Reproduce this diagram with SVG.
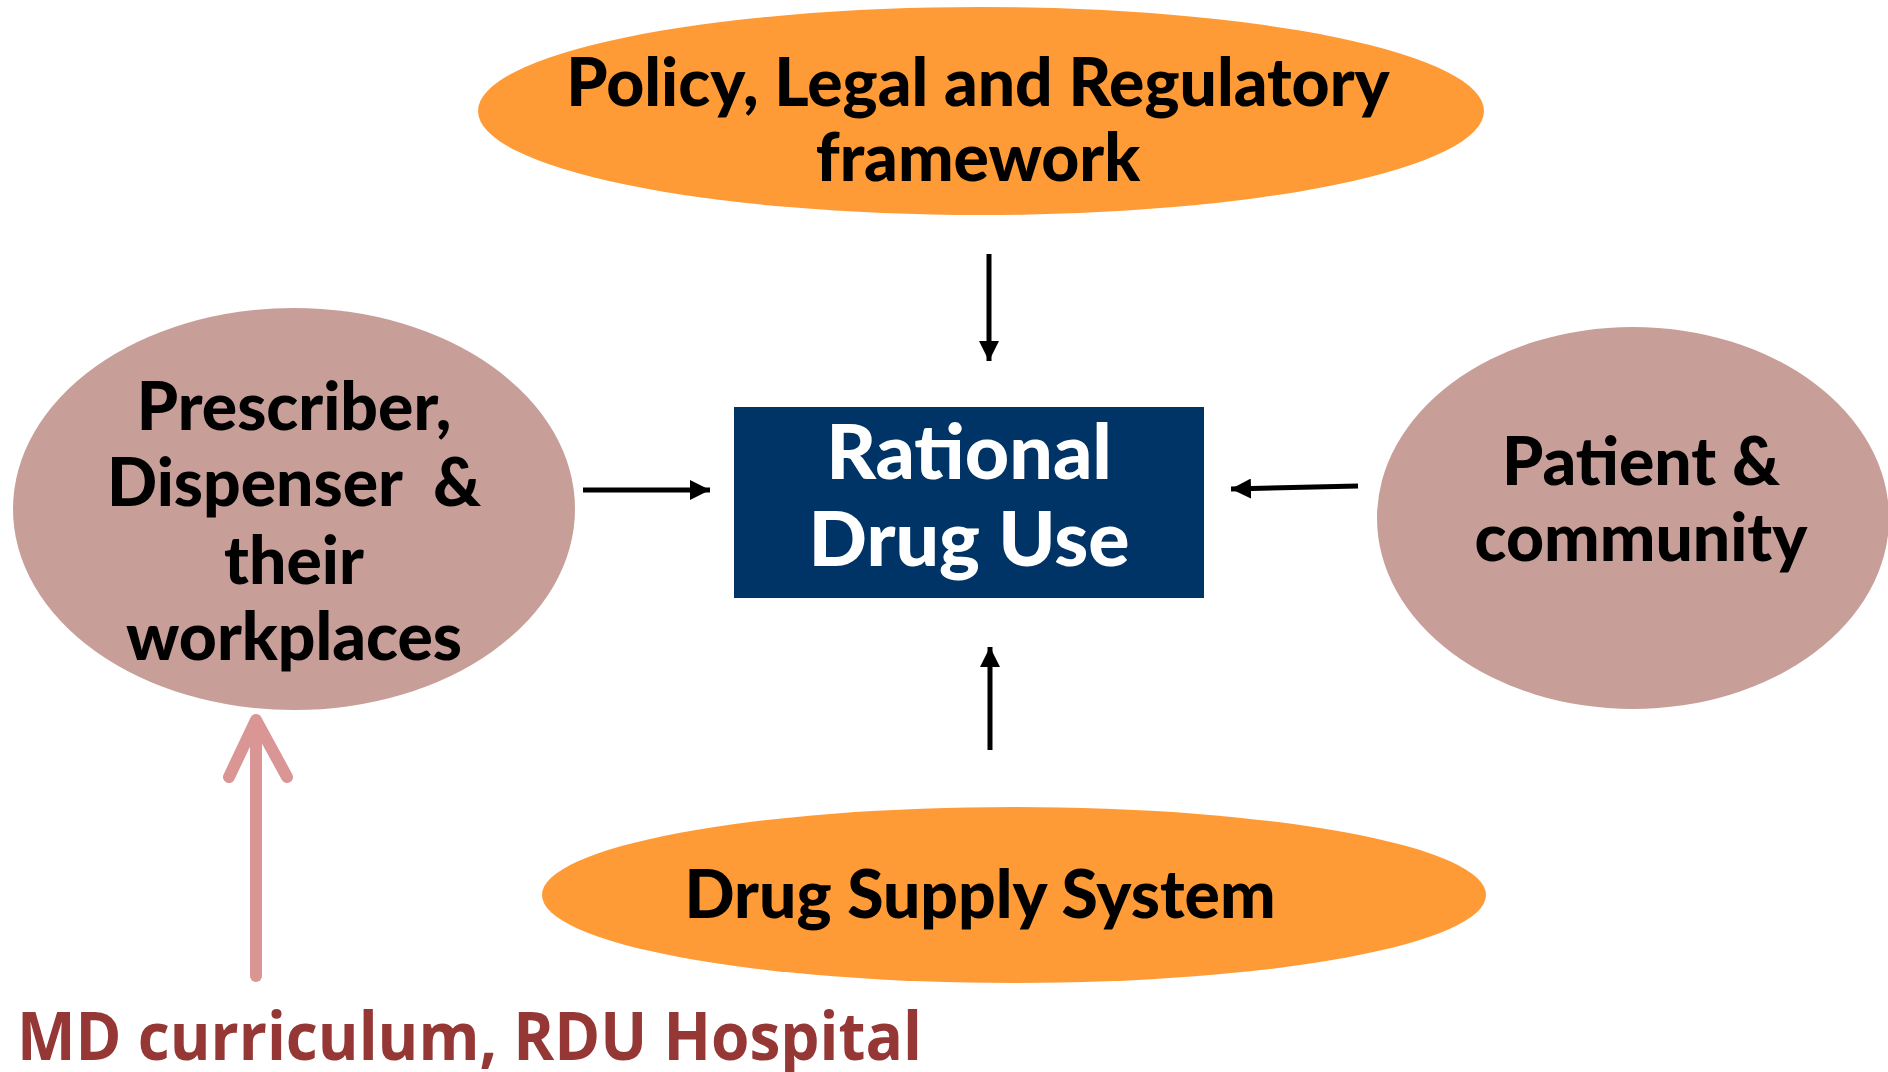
<svg xmlns="http://www.w3.org/2000/svg" width="1888" height="1072" viewBox="0 0 1888 1072">
  <style>
    .lbl { font-family: Lato, "Open Sans", sans-serif; font-weight: 900; fill: #000000; text-anchor: middle; font-size: 66px; }
    .big { font-size: 77px; fill: #FFFFFF; }
    .orange { fill: #FF9B36; }
    .rose { fill: #C79E98; }
    .wire { stroke: #000000; stroke-width: 5; fill: none; }
    .edu { stroke: #D99694; stroke-width: 12; fill: none; stroke-linecap: round; stroke-linejoin: round; }
  </style>
  <defs>
    <marker id="head" viewBox="0 0 10 10" refX="10" refY="5" markerWidth="4" markerHeight="4" orient="auto" markerUnits="strokeWidth">
      <path d="M0,0 L10,5 L0,10 Z" fill="#000000"/>
    </marker>
  </defs>
  <rect width="1888" height="1072" fill="#FFFFFF"/>

  <g id="policy">
    <ellipse class="orange" cx="981" cy="111" rx="503" ry="104"/>
    <text class="lbl" x="978" y="106">Policy, Legal and Regulatory</text>
    <text class="lbl" x="978" y="181">framework</text>
  </g>

  <g id="prescriber">
    <ellipse class="rose" cx="294" cy="509" rx="281" ry="201"/>
    <text class="lbl" x="294" y="430">Prescriber,</text>
    <text class="lbl" x="294" y="506" xml:space="preserve">Dispenser  &amp;</text>
    <text class="lbl" x="294" y="584">their</text>
    <text class="lbl" x="294" y="660">workplaces</text>
  </g>

  <g id="patient">
    <ellipse class="rose" cx="1633" cy="518" rx="256" ry="191"/>
    <text class="lbl" x="1641" y="485">Patient &amp;</text>
    <text class="lbl" x="1641" y="561">community</text>
  </g>

  <g id="rdu">
    <rect x="734" y="407" width="470" height="191" fill="#003366"/>
    <text class="lbl big" x="969" y="479">Rational</text>
    <text class="lbl big" x="969" y="566">Drug Use</text>
  </g>

  <g id="supply">
    <ellipse class="orange" cx="1014" cy="895" rx="472" ry="88"/>
    <text class="lbl" x="980" y="918">Drug Supply System</text>
  </g>

  <g id="connectors">
    <line class="wire" x1="989" y1="254" x2="989" y2="361" marker-end="url(#head)"/>
    <line class="wire" x1="583" y1="490" x2="710" y2="490" marker-end="url(#head)"/>
    <line class="wire" x1="1358" y1="486" x2="1231" y2="489" marker-end="url(#head)"/>
    <line class="wire" x1="990" y1="750" x2="990" y2="647" marker-end="url(#head)"/>
    <line class="edu" x1="256" y1="976" x2="256" y2="722"/>
    <polyline class="edu" points="229,777 256,720 287,777"/>
  </g>

  <g id="curriculum">
    <text x="17" y="1060" font-family="'Open Sans', 'Noto Sans', sans-serif" font-weight="700" font-size="66" fill="#953735" textLength="905" lengthAdjust="spacingAndGlyphs">MD curriculum, RDU Hospital</text>
  </g>
</svg>
